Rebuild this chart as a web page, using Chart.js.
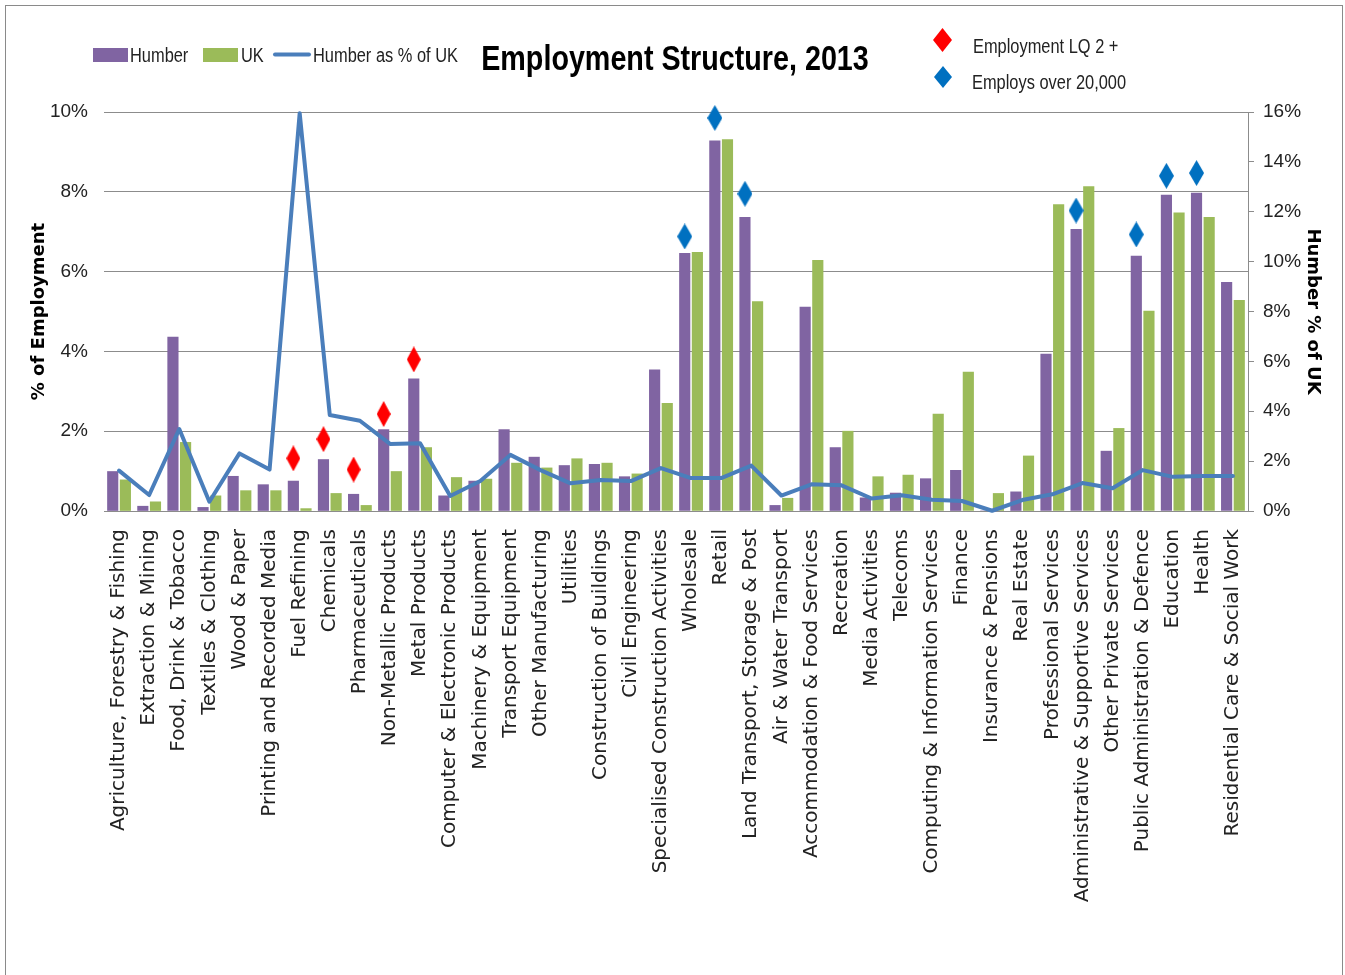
<!DOCTYPE html>
<html>
<head>
<meta charset="utf-8">
<script src="https://cdn.jsdelivr.net/npm/chart.js@4.4.1/dist/chart.umd.min.js"></script>
<style>
html,body{margin:0;padding:0;background:#fff;}
canvas{display:block;}
</style>
</head>
<body>
<canvas id="c" width="1345" height="975"></canvas>
<script>
const categories = [
  'Agriculture, Forestry & Fishing','Extraction & Mining','Food, Drink & Tobacco','Textiles & Clothing',
  'Wood & Paper','Printing and Recorded Media','Fuel Refining','Chemicals','Pharmaceuticals',
  'Non-Metallic Products','Metal Products','Computer & Electronic Products','Machinery & Equipment',
  'Transport Equipment','Other Manufacturing','Utilities','Construction of Buildings','Civil Engineering',
  'Specialised Construction Activities','Wholesale','Retail','Land Transport, Storage & Post',
  'Air & Water Transport','Accommodation & Food Services','Recreation','Media Activities','Telecoms',
  'Computing & Information Services','Finance','Insurance & Pensions','Real Estate','Professional Services',
  'Administrative & Supportive Services','Other Private Services','Public Administration & Defence',
  'Education','Health','Residential Care & Social Work'
];
const humberShare = [0.99,0.12,4.36,0.09,0.87,0.66,0.75,1.29,0.42,2.04,3.31,0.38,0.75,2.04,1.35,1.14,1.17,0.86,3.54,6.46,9.28,7.36,0.14,5.11,1.59,0.33,0.45,0.81,1.02,0.0,0.48,3.93,7.06,1.50,6.39,7.92,7.97,5.73];
const ukShare = [0.78,0.23,1.72,0.38,0.51,0.51,0.06,0.44,0.14,0.99,1.59,0.84,0.80,1.20,1.08,1.31,1.20,0.93,2.70,6.48,9.31,5.25,0.32,6.28,2.00,0.86,0.90,2.43,3.48,0.44,1.38,7.68,8.13,2.07,5.01,7.47,7.36,5.28];
const humberAsPctOfUK = [1.62,0.64,3.29,0.37,2.31,1.66,15.95,3.85,3.62,2.69,2.72,0.60,1.20,2.25,1.64,1.11,1.24,1.20,1.72,1.32,1.32,1.82,0.62,1.07,1.03,0.50,0.63,0.45,0.40,0.01,0.44,0.67,1.12,0.91,1.64,1.37,1.40,1.40];
const lqSectors = ['Fuel Refining','Chemicals','Pharmaceuticals','Non-Metallic Products','Metal Products'];
const lqMarkerY = [1.32,1.80,1.04,2.43,3.80];
const bigSectors = ['Wholesale','Retail','Land Transport, Storage & Post','Administrative & Supportive Services','Public Administration & Defence','Education','Health'];
const bigMarkerY = [6.88,9.85,7.95,7.53,6.93,8.40,8.47];
const leftTicks = [0,2,4,6,8,10];
const rightTicks = [0,2,4,6,8,10,12,14,16];

const PURPLE = '#8064A2', GREEN = '#9BBB59', LINE = '#4A7EBB', RED = '#FF0000', BLUE = '#0070C0';
const SANS = "'Liberation Sans',Arial,sans-serif";
const CONDENSE = 0.82;

function diamond(color, w, h) {
  const cv = document.createElement('canvas');
  cv.width = w; cv.height = h;
  const g = cv.getContext('2d');
  g.fillStyle = color;
  g.beginPath();
  g.moveTo(w/2, 0); g.lineTo(w, h/2); g.lineTo(w/2, h); g.lineTo(0, h/2); g.closePath();
  g.fill();
  return cv;
}
const redDiamond = diamond(RED, 14, 26);
const blueDiamond = diamond(BLUE, 15, 26);
const HUMBER_OFFSET = -0.21, UK_OFFSET = 0.21; // bar centres inside a category (category units)

const atOffset = (vals, off) => vals.map((v, i) => ({ x: i + off, y: v }));
const markers = (names, ys) => names.map((n, k) => ({ x: categories.indexOf(n) + HUMBER_OFFSET, y: ys[k] }));

function condensed(ctx, text, x, y, align) {
  ctx.save();
  ctx.translate(x, y);
  ctx.scale(CONDENSE, 1);
  ctx.textAlign = align || 'left';
  ctx.fillText(text, 0, 0);
  ctx.restore();
}

const decor = {
  id: 'decor',
  afterDraw(chart) {
    const ctx = chart.ctx;
    const ds = chart.data.datasets;
    ctx.save();
    ctx.strokeStyle = '#8a8a8a';
    ctx.lineWidth = 1;
    ctx.strokeRect(5.5, 5.5, 1337, 1000);
    ctx.textBaseline = 'alphabetic';
    ctx.fillStyle = '#000';
    ctx.font = "bold 35px " + SANS;
    condensed(ctx, 'Employment Structure, 2013', 675, 70, 'center');
    ctx.font = "20px " + SANS;
    ctx.fillStyle = ds[0].backgroundColor; ctx.fillRect(93, 48, 35, 14);
    ctx.fillStyle = ds[1].backgroundColor; ctx.fillRect(203, 48, 35, 14);
    ctx.strokeStyle = ds[2].borderColor; ctx.lineWidth = 4; ctx.lineCap = 'round';
    ctx.beginPath(); ctx.moveTo(275, 54.5); ctx.lineTo(309, 54.5); ctx.stroke();
    ctx.fillStyle = '#222';
    condensed(ctx, ds[0].label, 130, 62);
    condensed(ctx, ds[1].label, 241, 62);
    condensed(ctx, ds[2].label, 313, 62);
    ctx.drawImage(diamond(RED, 19, 24), 933, 28);
    ctx.drawImage(diamond(BLUE, 18, 22), 934, 66);
    condensed(ctx, ds[3].label, 973, 53);
    condensed(ctx, ds[4].label, 972, 89);
    ctx.restore();
  }
};

new Chart(document.getElementById('c'), {
  data: {
    labels: categories,
    datasets: [
      { type: 'bar', label: 'Humber', data: atOffset(humberShare, HUMBER_OFFSET), backgroundColor: PURPLE,
        xAxisID: 'xd', yAxisID: 'y', grouped: false, barThickness: 10.5, order: 3 },
      { type: 'bar', label: 'UK', data: atOffset(ukShare, UK_OFFSET), backgroundColor: GREEN,
        xAxisID: 'xd', yAxisID: 'y', grouped: false, barThickness: 10.5, order: 3 },
      { type: 'line', label: 'Humber as % of UK', data: humberAsPctOfUK, borderColor: LINE, backgroundColor: LINE,
        borderWidth: 4, pointRadius: 0, tension: 0, xAxisID: 'x', yAxisID: 'y1', order: 2, clip: false,
        borderJoinStyle: 'round', borderCapStyle: 'round' },
      { type: 'line', label: 'Employment LQ 2 +', data: markers(lqSectors, lqMarkerY), showLine: false,
        pointStyle: redDiamond, pointRadius: 10, xAxisID: 'xd', yAxisID: 'y', order: 1, clip: false },
      { type: 'line', label: 'Employs over 20,000', data: markers(bigSectors, bigMarkerY), showLine: false,
        pointStyle: blueDiamond, pointRadius: 10, xAxisID: 'xd', yAxisID: 'y', order: 1, clip: false }
    ]
  },
  options: {
    responsive: false,
    devicePixelRatio: 1,
    animation: false,
    layout: { padding: { top: 112, left: 0, right: 0, bottom: 0 } },
    plugins: { legend: { display: false }, tooltip: { enabled: false }, title: { display: false } },
    scales: {
      x: {
        type: 'category', offset: true,
        grid: { display: false }, border: { display: false },
        ticks: { autoSkip: false, maxRotation: 90, minRotation: 90, padding: 10, color: '#222',
          font: { family: "'DejaVu Sans',sans-serif", size: 20 } },
        afterFit(s) { s.height = 464; }
      },
      xd: { type: 'linear', display: false, offset: false, grid: { offset: false },
        min: -0.5, max: categories.length - 0.5, bounds: 'ticks' },
      y: {
        type: 'linear', position: 'left', min: 0, max: 10,
        afterBuildTicks(s) { s.ticks = leftTicks.map(v => ({ value: v })); },
        ticks: { padding: 16, color: '#222', font: { family: SANS, size: 19 }, callback: v => v + '%' },
        grid: { color: '#8c8c8c', lineWidth: 1, drawTicks: false },
        border: { display: false },
        title: { display: true, text: '% of Employment', color: '#000',
          font: { family: "'DejaVu Sans',sans-serif", size: 18, weight: 'bold' }, padding: { top: 29, bottom: 0 } },
        afterFit(s) { s.width = 104; }
      },
      y1: {
        type: 'linear', position: 'right', min: 0, max: 16,
        afterBuildTicks(s) { s.ticks = rightTicks.map(v => ({ value: v })); },
        ticks: { padding: 9, color: '#222', font: { family: SANS, size: 19 }, callback: v => v + '%' },
        grid: { drawOnChartArea: false, drawTicks: true, tickLength: 6, color: '#8c8c8c' },
        border: { display: true, color: '#8c8c8c' },
        title: { display: true, text: 'Humber % of UK', color: '#000',
          font: { family: "'DejaVu Sans',sans-serif", size: 18, weight: 'bold' }, padding: { top: 22, bottom: 0 } },
        afterFit(s) { s.width = 97; }
      }
    }
  },
  plugins: [decor]
});
</script>
</body>
</html>
